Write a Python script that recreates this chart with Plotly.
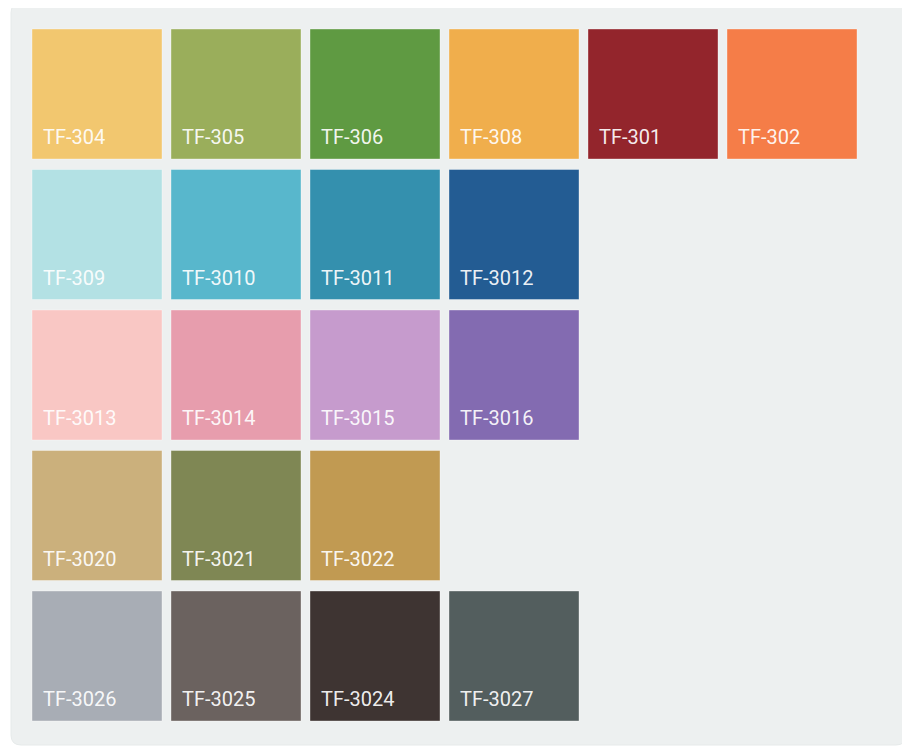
"""Colour swatch chart for the TF-30xx range."""

import plotly.graph_objects as go

# swatch codes, one list per row of the card
row_codes = [
    ["TF-304", "TF-305", "TF-306", "TF-308", "TF-301", "TF-302"],
    ["TF-309", "TF-3010", "TF-3011", "TF-3012"],
    ["TF-3013", "TF-3014", "TF-3015", "TF-3016"],
    ["TF-3020", "TF-3021", "TF-3022"],
    ["TF-3026", "TF-3025", "TF-3024", "TF-3027"],
]
row_colors = [
    ["#f2c76f", "#9aae5b", "#5f9a42", "#f0ae4c", "#93252c", "#f57d48"],
    ["#b3e1e4", "#58b7cc", "#3490ae", "#235c93"],
    ["#f9c7c4", "#e79dad", "#c69bcd", "#836bb1"],
    ["#cbb07c", "#7f8754", "#c19a52"],
    ["#a8adb5", "#6b625f", "#3e3432", "#535e5e"],
]

W, H = 910, 747
PAD = 8                # page body margin; axes are set up in page pixels
X0, Y0 = 32, 29        # top-left of first swatch
STEP_X, STEP_Y = 139, 140.5
SIZE = 130

xs, ys, cols, labels, tx, ty = [], [], [], [], [], []
for r, (codes, colors) in enumerate(zip(row_codes, row_colors)):
    for c, (code, color) in enumerate(zip(codes, colors)):
        left = X0 + c * STEP_X
        top = Y0 + r * STEP_Y
        xs.append(left + SIZE / 2)
        ys.append(top + SIZE / 2)
        cols.append(color)
        labels.append(code)
        tx.append(left + 11)
        ty.append(top + SIZE - 20)

fig = go.Figure()
fig.add_trace(go.Scatter(
    x=xs, y=ys, mode="markers",
    marker=dict(symbol="square", size=SIZE, color=cols,
                line=dict(width=1, color="rgba(255,255,255,0.35)")),
    hoverinfo="skip", showlegend=False,
))
fig.add_trace(go.Scatter(
    x=tx, y=ty, mode="text", text=labels, textposition="middle right",
    textfont=dict(family="Roboto, Noto Sans, sans-serif", size=20,
                  color="rgba(255,255,255,0.93)"),
    hoverinfo="skip", showlegend=False,
))

# rounded light panel behind the swatches
x1, y1, x2, y2, rad = 11, 3, 906, 745, 10
panel = (f"M{x1 + rad},{y1} L{x2 - rad},{y1} Q{x2},{y1} {x2},{y1 + rad} "
         f"L{x2},{y2 - rad} Q{x2},{y2} {x2 - rad},{y2} L{x1 + rad},{y2} "
         f"Q{x1},{y2} {x1},{y2 - rad} L{x1},{y1 + rad} Q{x1},{y1} {x1 + rad},{y1} Z")
fig.add_shape(type="path", path=panel, xref="x", yref="y",
              fillcolor="#edf0f0", line=dict(color="#e6eaea", width=1),
              layer="below")

fig.update_layout(
    width=W - PAD, height=H - PAD,
    margin=dict(l=0, r=0, t=0, b=0),
    paper_bgcolor="white", plot_bgcolor="white",
    xaxis=dict(range=[PAD, W], visible=False, fixedrange=True),
    yaxis=dict(range=[H, PAD], visible=False, fixedrange=True),
)

fig.write_html("out.html")
